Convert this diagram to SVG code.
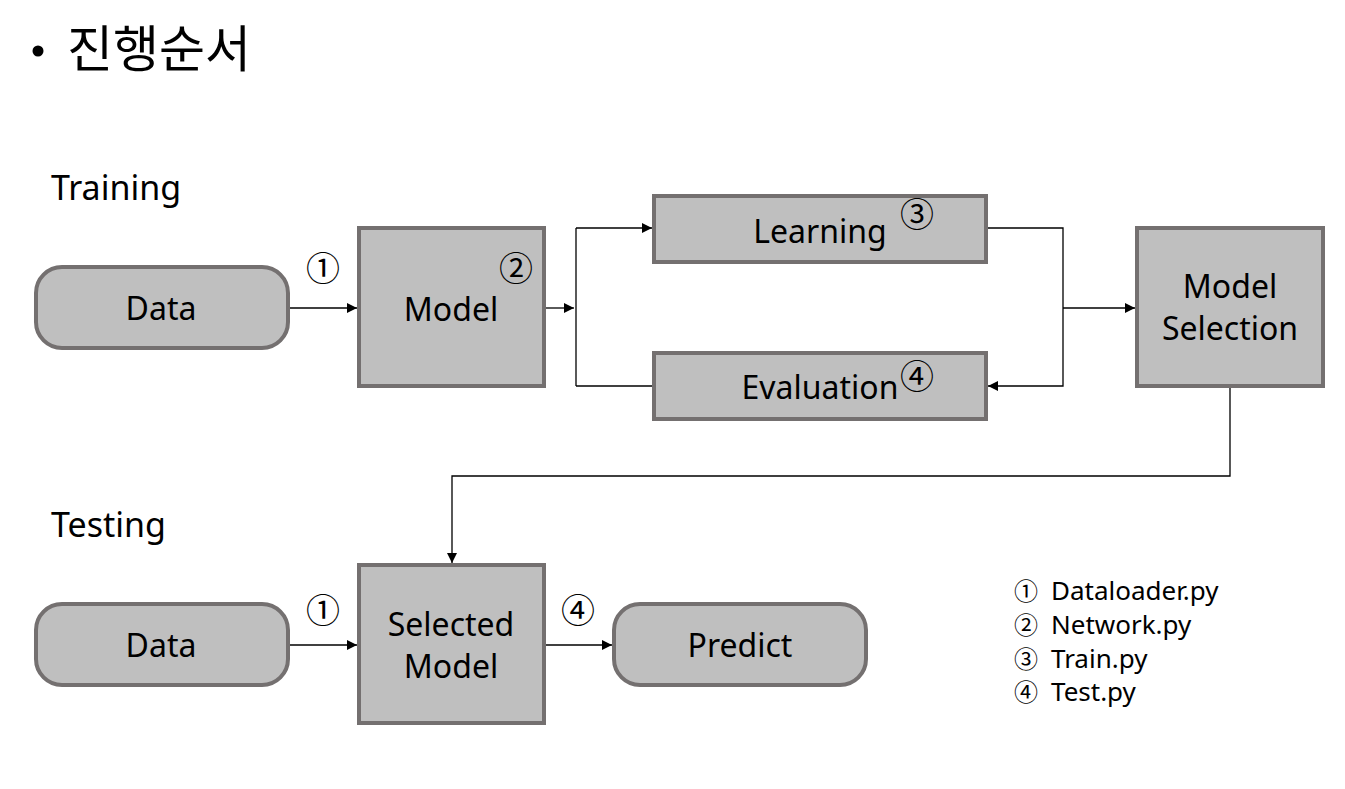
<svg xmlns="http://www.w3.org/2000/svg" width="1345" height="789" viewBox="0 0 1345 789">
<defs>
<style>
.box{fill:#bfbfbf;stroke:#747070;stroke-width:4}
.t{font-family:"Noto Sans","Noto Sans CJK KR",sans-serif;fill:#000}
.lbl{font-size:32px;text-anchor:middle}
.num{font-family:"Noto Sans CJK KR","Noto Sans",sans-serif;font-size:34px;text-anchor:middle}
.ln{font-family:"Noto Sans CJK KR","Noto Sans",sans-serif;font-size:24px}
.leg{font-size:26px}
.c{fill:none;stroke:#000;stroke-width:1.3}
</style>
<marker id="ah" viewBox="0 0 10 10" refX="10" refY="5" markerWidth="10" markerHeight="10" markerUnits="userSpaceOnUse" orient="auto">
<path d="M0,0 L10,5 L0,10 z" fill="#000"/>
</marker>
</defs>
<rect width="1345" height="789" fill="#fff"/>
<g id="title">
<circle cx="38" cy="51" r="5.5" fill="#000"/>
<text class="t" x="67" y="67" font-size="50" font-family="Noto Sans CJK KR,sans-serif">진행순서</text>
</g>
<text id="training-label" class="t" x="51" y="200" font-size="34">Training</text>
<text id="testing-label" class="t" x="51" y="537" font-size="34">Testing</text>
<g id="connectors">
<path class="c" d="M288,308 H357" marker-end="url(#ah)"/>
<path class="c" d="M544,308 H574" marker-end="url(#ah)"/>
<path class="c" d="M576,228 V386"/>
<path class="c" d="M576,228 H652" marker-end="url(#ah)"/>
<path class="c" d="M576,386 H654"/>
<path class="c" d="M986,228 H1063 V386 H988" marker-end="url(#ah)"/>
<path class="c" d="M1063,308 H1135" marker-end="url(#ah)"/>
<path class="c" d="M1230,386 V476 H452 V563" marker-end="url(#ah)"/>
<path class="c" d="M288,645 H357" marker-end="url(#ah)"/>
<path class="c" d="M544,645 H612" marker-end="url(#ah)"/>
</g>
<g id="data1"><rect class="box" x="36" y="267" width="252" height="81" rx="26"/><text class="t lbl" x="161" y="320">Data</text></g>
<g id="model"><rect class="box" x="359" y="228" width="185" height="158"/><text class="t lbl" x="451" y="321">Model</text></g>
<g id="learning"><rect class="box" x="654" y="196" width="332" height="66"/><text class="t lbl" x="820" y="243">Learning</text></g>
<g id="evaluation"><rect class="box" x="654" y="353" width="332" height="66"/><text class="t lbl" x="820" y="399">Evaluation</text></g>
<g id="model-selection"><rect class="box" x="1137" y="228" width="186" height="158"/><text class="t lbl" x="1230" y="298">Model</text><text class="t lbl" x="1230" y="340">Selection</text></g>
<g id="data2"><rect class="box" x="36" y="604" width="252" height="81" rx="26"/><text class="t lbl" x="161" y="657">Data</text></g>
<g id="selected-model"><rect class="box" x="359" y="565" width="185" height="158"/><text class="t lbl" x="451" y="636">Selected</text><text class="t lbl" x="451" y="678">Model</text></g>
<g id="predict"><rect class="box" x="614" y="604" width="252" height="81" rx="26"/><text class="t lbl" x="740" y="657">Predict</text></g>
<g id="numbers">
<text class="num" x="323" y="281">①</text>
<text class="num" x="516" y="281">②</text>
<text class="num" x="917" y="227">③</text>
<text class="num" x="917" y="389">④</text>
<text class="num" x="323" y="623">①</text>
<text class="num" x="578" y="623">④</text>
</g>
<g id="legend">
<text class="ln" x="1014" y="600">①</text><text class="t leg" x="1051" y="600">Dataloader.py</text>
<text class="ln" x="1014" y="634">②</text><text class="t leg" x="1051" y="634">Network.py</text>
<text class="ln" x="1014" y="668">③</text><text class="t leg" x="1051" y="668">Train.py</text>
<text class="ln" x="1014" y="701">④</text><text class="t leg" x="1051" y="701">Test.py</text>
</g>
</svg>
